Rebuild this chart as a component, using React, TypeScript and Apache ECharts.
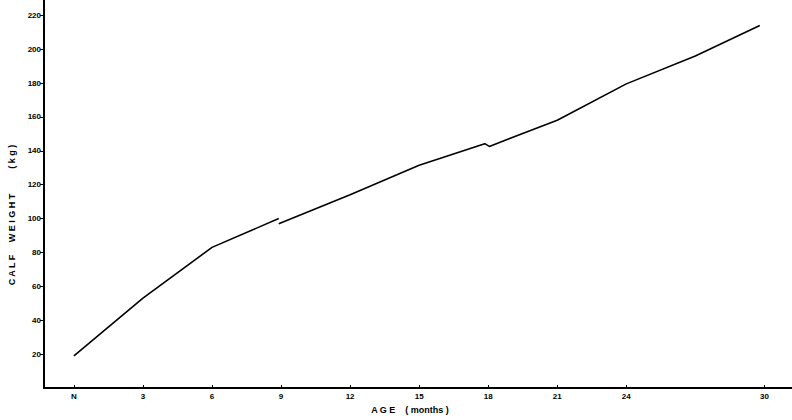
import React, { useEffect, useRef } from "react";
import * as echarts from "echarts";

// Age (months) and calf weight (kg); two drawn segments
const segment1: [number, number][] = [[0, 19], [3, 53], [6, 83], [8.9, 100]];
const segment2: [number, number][] = [
  [8.9, 97], [12, 114], [15, 131.5], [17.85, 144.2], [18.05, 142.6],
  [21, 158], [24, 179.5], [27, 196], [29.8, 214],
];

const xTicks = [0, 3, 6, 9, 12, 15, 18, 21, 24, 30];
const yTicks = [20, 40, 60, 80, 100, 120, 140, 160, 180, 200, 220];

const yTitle = "C A L F     W E I G H T          ( k g )";
const xTitle = "A G E    ( months )";

export default function App() {
  const ref = useRef<HTMLDivElement>(null);
  useEffect(() => {
    if (!ref.current) return;
    const chart = echarts.init(ref.current, null, { renderer: "svg" });
    const lineSeries = (d: [number, number][]) => ({
      type: "line",
      data: d,
      showSymbol: false,
      symbol: "none",
      lineStyle: { color: "#000", width: 1.6 },
      silent: true,
    });
    chart.setOption({
      animation: false,
      backgroundColor: "#fff",
      grid: { left: 44, right: 0, top: 0, bottom: 32 },
      xAxis: {
        type: "value",
        min: -1.3,
        max: 31.2,
        splitLine: { show: false },
        axisLine: { show: true, onZero: false, lineStyle: { color: "#000", width: 2 } },
        axisTick: {
          show: true,
          inside: true,
          length: 3,
          customValues: xTicks,
          lineStyle: { color: "#000", width: 1 },
        },
        axisLabel: {
          customValues: xTicks,
          formatter: (v: number) => (v === 0 ? "N" : String(v)),
          color: "#000",
          fontFamily: "Liberation Sans",
          fontWeight: "bold",
          fontSize: 8,
          margin: 4,
        },
      },
      yAxis: {
        type: "value",
        min: 0,
        max: 229,
        splitLine: { show: false },
        axisLine: { show: true, onZero: false, lineStyle: { color: "#000", width: 2 } },
        axisTick: {
          show: true,
          length: 4,
          customValues: yTicks,
          lineStyle: { color: "#000", width: 1 },
        },
        axisLabel: {
          customValues: yTicks,
          color: "#000",
          fontFamily: "Liberation Sans",
          fontWeight: "bold",
          fontSize: 8,
          margin: 3,
        },
      },
      graphic: [
        {
          type: "text",
          x: 12,
          y: 215,
          rotation: Math.PI / 2,
          style: {
            text: yTitle,
            fill: "#000",
            font: "bold 9px 'Liberation Sans'",
            textAlign: "center",
            textVerticalAlign: "middle",
          },
        },
        {
          type: "text",
          x: 410,
          y: 410,
          style: {
            text: xTitle,
            fill: "#000",
            font: "bold 9px 'Liberation Sans'",
            textAlign: "center",
            textVerticalAlign: "middle",
          },
        },
      ],
      series: [lineSeries(segment1), lineSeries(segment2)],
    });
    return () => chart.dispose();
  }, []);
  return <div ref={ref} style={{ width: 792, height: 420, position: "absolute", left: 0, top: 0 }} />;
}
